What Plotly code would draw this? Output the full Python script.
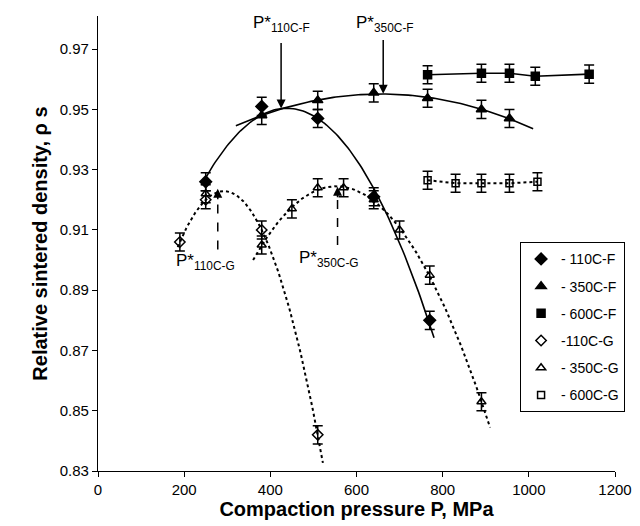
import numpy as np
import plotly.graph_objects as go

# ---------------- data ----------------
p_110F = [250, 380, 510, 640, 770]
d_110F = [0.926, 0.951, 0.947, 0.921, 0.880]
p_350F = [380, 510, 640, 765, 890, 955]
d_350F = [0.948, 0.953, 0.9555, 0.9537, 0.950, 0.947]
p_600F = [765, 890, 955, 1015, 1140]
d_600F = [0.9615, 0.962, 0.962, 0.961, 0.9617]
p_110G = [190, 250, 380, 510]
d_110G = [0.906, 0.920, 0.910, 0.842]
p_350G = [250, 380, 450, 510, 570, 640, 700, 770, 890]
d_350G = [0.922, 0.905, 0.917, 0.924, 0.924, 0.920, 0.910, 0.895, 0.853]
p_600G = [765, 830, 890, 955, 1020]
d_600G = [0.9265, 0.9255, 0.9255, 0.9255, 0.926]
err = 0.003

names = ["- 110C-F", "- 350C-F", "- 600C-F", "-110C-G", "- 350C-G", "- 600C-G"]
x_ticks = [0, 200, 400, 600, 800, 1000, 1200]
y_ticks = [0.83, 0.85, 0.87, 0.89, 0.91, 0.93, 0.95, 0.97]

FONT = "Liberation Sans, Arial, sans-serif"
fig = go.Figure()

def trend(px, py, deg, lo, hi, dash):
    c = np.polyfit(px, py, deg)
    xs = np.linspace(lo, hi, 120)
    fig.add_trace(go.Scatter(x=xs, y=np.polyval(c, xs), mode="lines",
                             line=dict(color="black", width=1.6 if dash == "solid" else 2, dash=dash),
                             showlegend=False, hoverinfo="skip"))

# trend curves
trend(p_110F, d_110F, 2, 240, 780, "solid")
trend(p_350F, d_350F, 2, 320, 1010, "solid")
trend(p_110G, d_110G, 3, 185, 522, "dot")
trend(p_350G[1:], d_350G[1:], 3, 360, 910, "dot")
fig.add_trace(go.Scatter(x=p_600F, y=d_600F, mode="lines", line=dict(color="black", width=1.6),
                         showlegend=False, hoverinfo="skip"))
fig.add_trace(go.Scatter(x=p_600G, y=d_600G, mode="lines", line=dict(color="black", width=2, dash="dot"),
                         showlegend=False, hoverinfo="skip"))

series = [
    (p_110F, d_110F, "diamond", 9),
    (p_350F, d_350F, "triangle-up", 9),
    (p_600F, d_600F, "square", 8),
    (p_110G, d_110G, "diamond-open", 8),
    (p_350G, d_350G, "triangle-up-open", 8),
    (p_600G, d_600G, "square-open", 7),
]
for i, (px, py, sym, sz) in enumerate(series):
    fig.add_trace(go.Scatter(
        x=px, y=py, mode="markers", name=names[i], legendgroup=str(i),
        marker=dict(symbol=sym, size=sz, color="black", line=dict(color="black", width=1.5)),
        error_y=dict(type="constant", value=err, color="black", thickness=1.5, width=5),
    ))

# arrows to optimum pressures
def arrow(x, y_tip, y_tail):
    fig.add_annotation(x=x, y=y_tip, ax=x, ay=y_tail, axref="x", ayref="y",
                       text="", showarrow=True, arrowhead=2, arrowsize=1.2, arrowwidth=1.5,
                       arrowcolor="black")

arrow(425, 0.9503, 0.9725)
arrow(662, 0.9552, 0.9735)

def dashed_arrow(x, y_tip, y_tail):
    fig.add_shape(type="line", x0=x, x1=x, y0=y_tail, y1=y_tip - 0.002,
                  line=dict(color="black", width=1.5, dash="dash"))
    fig.add_annotation(x=x, y=y_tip, ax=0, ay=12, text="", showarrow=True,
                       arrowhead=2, arrowsize=1.2, arrowwidth=1.5, arrowcolor="black")

dashed_arrow(278, 0.9237, 0.9035)
dashed_arrow(556, 0.9243, 0.905)

def label(x, y, sub):
    fig.add_annotation(x=x, y=y, text="P*<sub>" + sub + "</sub>", showarrow=False,
                       font=dict(family=FONT, size=17, color="black"))

label(425, 0.9783, "110C-F")
label(665, 0.9783, "350C-F")
label(250, 0.8995, "110C-G")
label(537, 0.9005, "350C-G")

fig.update_layout(
    width=640, height=526,
    margin=dict(l=90, r=33, t=8, b=63),
    paper_bgcolor="white", plot_bgcolor="white",
    font=dict(family=FONT, size=15, color="black"),
    legend=dict(x=0.816, y=0.503, xanchor="left", yanchor="top",
                bordercolor="black", borderwidth=1.2, bgcolor="white",
                font=dict(size=14, family=FONT), tracegroupgap=6,
                traceorder="grouped", itemwidth=30),
    xaxis=dict(range=[0, 1200], tickvals=x_ticks, showline=True, linecolor="black",
               linewidth=1.2, ticks="outside", ticklen=5, tickcolor="black",
               showgrid=False, zeroline=False, tickfont=dict(size=15),
               title=dict(text="<b>Compaction pressure P, MPa</b>", font=dict(size=20), standoff=2)),
    yaxis=dict(range=[0.83, 0.981], tickvals=y_ticks, tickformat=".2f", showline=True,
               linecolor="black", linewidth=1.2, ticks="outside", ticklen=5, tickcolor="black",
               showgrid=False, zeroline=False, tickfont=dict(size=15),
               title=dict(text="<b>Relative sintered density, ρ s</b>", font=dict(size=20), standoff=6)),
)

fig.write_html("out.html")
